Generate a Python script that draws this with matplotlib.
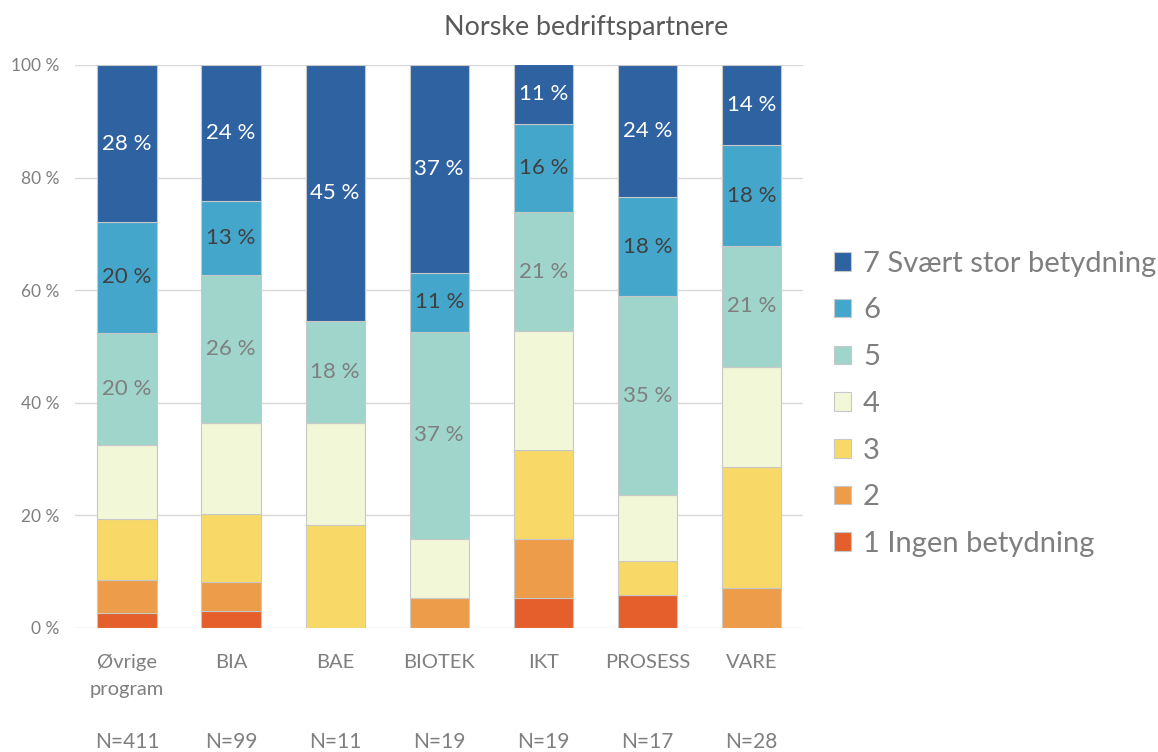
import matplotlib.pyplot as plt
import numpy as np

plt.rcParams['font.family'] = ['Lato', 'DejaVu Sans']

categories = ['Øvrige\nprogram', 'BIA', 'BAE', 'BIOTEK', 'IKT', 'PROSESS', 'VARE']
n_labels = ['N=411', 'N=99', 'N=11', 'N=19', 'N=19', 'N=17', 'N=28']
series_names = ['1 Ingen betydning', '2', '3', '4', '5', '6', '7 Svært stor betydning']

# share in percent, one list per answer level (1..7)
s1 = [2.7, 3.0, 0.0, 0.0, 5.3, 5.9, 0.0]
s2 = [5.8, 5.1, 0.0, 5.3, 10.5, 0.0, 7.1]
s3 = [10.9, 12.1, 18.2, 0.0, 15.8, 5.9, 21.4]
s4 = [13.1, 16.2, 18.2, 10.5, 21.1, 11.8, 17.9]
s5 = [19.9, 26.3, 18.2, 36.8, 21.1, 35.3, 21.4]
s6 = [19.7, 13.1, 0.0, 10.5, 15.8, 17.6, 17.9]
s7 = [27.9, 24.2, 45.4, 36.9, 10.5, 23.5, 14.3]

colors = ['#E45F2B', '#ED9C49', '#F8D866', '#F2F7D8', '#9FD5CA', '#45A6CC', '#2E62A1']
label_colors = [None, None, None, None, '#7F7F7F', '#404040', 'white']

fig = plt.figure(figsize=(11.58, 7.52), dpi=100)
ax = fig.add_axes([0.0648, 0.165, 0.629, 0.7486])

x = np.arange(len(categories))
bottom = np.zeros(len(categories))
handles = []
for vals, name, col, lcol in zip([s1, s2, s3, s4, s5, s6, s7], series_names, colors, label_colors):
    vals = np.array(vals)
    bars = ax.bar(x, vals, 0.57, bottom=bottom, color=col, edgecolor='#C8C8C8',
                  linewidth=0.8, label=name, zorder=3)
    handles.append(bars)
    if lcol is not None:
        labels = ['%d %%' % int(v + 0.5) if v > 0 else '' for v in vals]
        ax.bar_label(bars, labels=labels, label_type='center', color=lcol, fontsize=16)
    bottom += vals

ax.set_xlim(-0.5, 6.5)
ax.set_ylim(0, 100)
ax.set_yticks([0, 20, 40, 60, 80, 100])
ax.set_yticklabels(['%d %%' % t for t in [0, 20, 40, 60, 80, 100]])
ax.set_xticks(x)
ax.set_xticklabels(categories, fontsize=14.5, color='#7F7F7F', linespacing=1.68)
ax.tick_params(axis='y', labelsize=12.5, colors='#7F7F7F', length=0, pad=11.5)
ax.tick_params(axis='x', length=0, pad=19)
ax.grid(axis='y', color='#D9D9D9', linewidth=1, zorder=0)
for sp in ax.spines.values():
    sp.set_visible(False)

for xi, nl in zip(x, n_labels):
    ax.text(xi, -0.202, nl, transform=ax.get_xaxis_transform(), ha='center', va='center',
            fontsize=15, color='#7F7F7F')

fig.text(0.5065, 0.963, 'Norske bedriftspartnere', ha='center', va='center',
         fontsize=19.4, color='#595959')

leg = fig.legend(handles[::-1], series_names[::-1], loc='center left',
                 bbox_to_anchor=(0.72, 0.463), frameon=False, fontsize=21,
                 handlelength=0.6, handleheight=0.6, handletextpad=0.4,
                 labelspacing=0.71, borderpad=0, borderaxespad=0)
for t in leg.get_texts():
    t.set_color('#7F7F7F')

fig.savefig('out.png', dpi=100)
